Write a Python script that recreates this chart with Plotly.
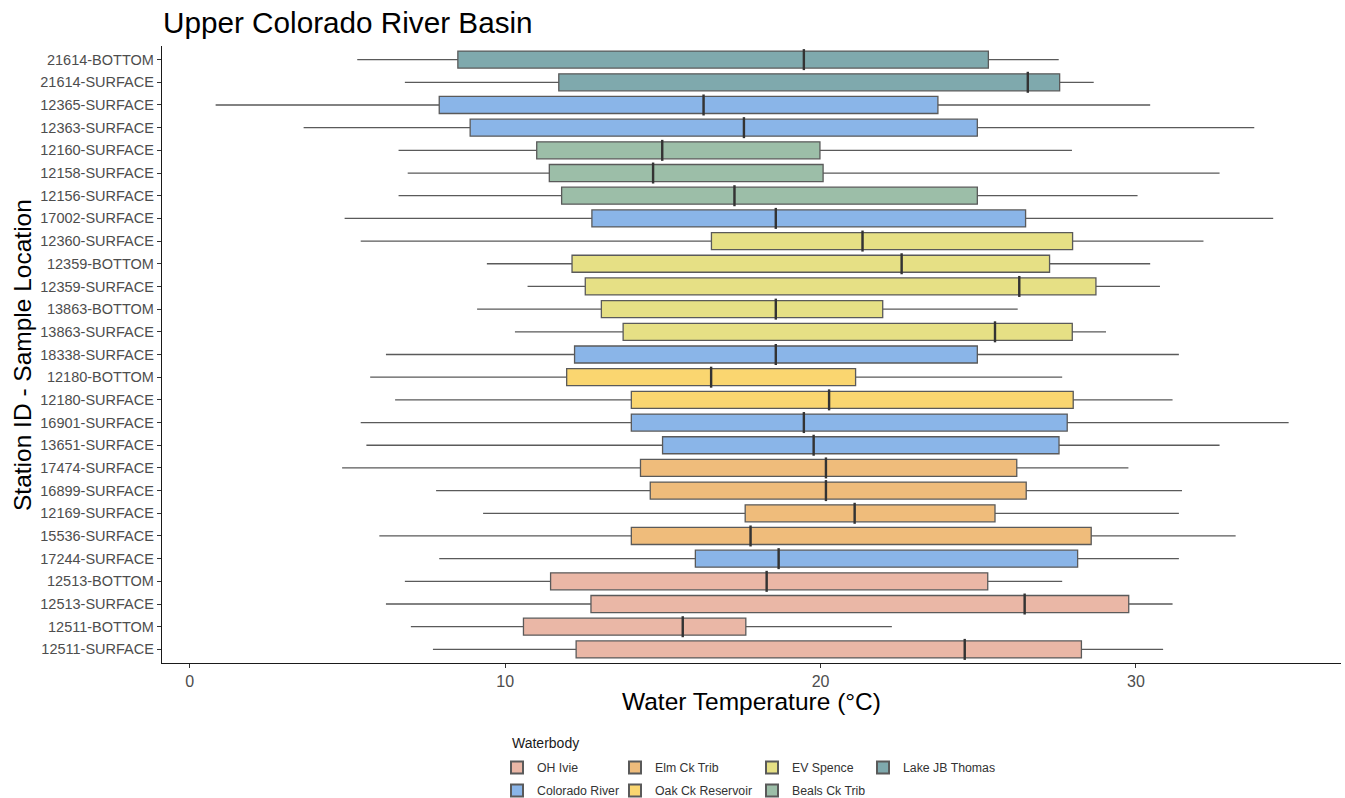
import plotly.graph_objects as go

# Station / sample-location rows, listed top to bottom
stations = [
    "21614-BOTTOM", "21614-SURFACE", "12365-SURFACE", "12363-SURFACE",
    "12160-SURFACE", "12158-SURFACE", "12156-SURFACE", "17002-SURFACE",
    "12360-SURFACE", "12359-BOTTOM", "12359-SURFACE", "13863-BOTTOM",
    "13863-SURFACE", "18338-SURFACE", "12180-BOTTOM", "12180-SURFACE",
    "16901-SURFACE", "13651-SURFACE", "17474-SURFACE", "16899-SURFACE",
    "12169-SURFACE", "15536-SURFACE", "17244-SURFACE", "12513-BOTTOM",
    "12513-SURFACE", "12511-BOTTOM", "12511-SURFACE",
]

waterbody = [
    "Lake JB Thomas", "Lake JB Thomas", "Colorado River", "Colorado River",
    "Beals Ck Trib", "Beals Ck Trib", "Beals Ck Trib", "Colorado River",
    "EV Spence", "EV Spence", "EV Spence", "EV Spence",
    "EV Spence", "Colorado River", "Oak Ck Reservoir", "Oak Ck Reservoir",
    "Colorado River", "Colorado River", "Elm Ck Trib", "Elm Ck Trib",
    "Elm Ck Trib", "Elm Ck Trib", "Colorado River", "OH Ivie",
    "OH Ivie", "OH Ivie", "OH Ivie",
]

# Water temperature summary statistics (°C)
lower_whisker = [5.31, 6.82, 0.82, 3.61, 6.62, 6.91, 6.62, 4.91, 5.42, 9.42,
                 10.71, 9.11, 10.31, 6.22, 5.72, 6.51, 5.42, 5.60, 4.83, 7.81,
                 9.30, 6.01, 7.91, 6.82, 6.22, 7.01, 7.71]
q1 = [8.50, 11.70, 7.91, 8.89, 11.00, 11.40, 11.79, 12.75, 16.54, 12.12,
      12.54, 13.05, 13.74, 12.20, 11.95, 14.00, 14.00, 14.99, 14.29, 14.60,
      17.61, 14.00, 16.03, 11.44, 12.72, 10.58, 12.25]
median = [19.47, 26.57, 16.29, 17.57, 14.98, 14.69, 17.27, 18.58, 21.33, 22.57,
          26.30, 18.58, 25.53, 18.58, 16.53, 20.27, 19.47, 19.78, 20.17, 20.17,
          21.08, 17.78, 18.67, 18.29, 26.47, 15.63, 24.57]
q3 = [25.32, 27.58, 23.72, 24.97, 19.98, 20.08, 24.97, 26.50, 27.99, 27.26,
      28.73, 21.97, 27.98, 24.97, 21.11, 28.01, 27.82, 27.56, 26.22, 26.52,
      25.53, 28.58, 28.15, 25.30, 29.77, 17.63, 28.27]
upper_whisker = [27.55, 28.66, 30.45, 33.75, 27.97, 32.65, 30.05, 34.35, 32.14, 30.45,
                 30.76, 26.25, 29.05, 31.36, 27.66, 31.16, 34.84, 32.65, 29.76, 31.46,
                 31.36, 33.16, 31.36, 27.66, 31.16, 22.26, 30.86]

groups = ["OH Ivie", "Colorado River", "Elm Ck Trib", "Oak Ck Reservoir",
          "EV Spence", "Beals Ck Trib", "Lake JB Thomas"]
fill_colors = {
    "OH Ivie": "#EAB7A6",
    "Colorado River": "#8AB5E8",
    "Elm Ck Trib": "#EFBC7B",
    "Oak Ck Reservoir": "#FAD670",
    "EV Spence": "#E6E085",
    "Beals Ck Trib": "#9CBEA8",
    "Lake JB Thomas": "#7FA9AD",
}
# legend columns (two entries per column, filled top-down)
legend_ids = {
    "OH Ivie": "legend", "Colorado River": "legend",
    "Elm Ck Trib": "legend2", "Oak Ck Reservoir": "legend2",
    "EV Spence": "legend3", "Beals Ck Trib": "legend3",
    "Lake JB Thomas": "legend4",
}

fig = go.Figure()

for g in groups:
    idx = [i for i, w in enumerate(waterbody) if w == g]
    fig.add_trace(go.Box(
        name=g,
        legendgroup=g,
        orientation="h",
        y=[stations[i] for i in idx],
        lowerfence=[lower_whisker[i] for i in idx],
        q1=[q1[i] for i in idx],
        median=[median[i] for i in idx],
        q3=[q3[i] for i in idx],
        upperfence=[upper_whisker[i] for i in idx],
        fillcolor=fill_colors[g],
        line=dict(color="#5a5a5a", width=1.3),
        whiskerwidth=0,
        width=0.75,
        boxpoints=False,
        legend=legend_ids[g],
    ))

# darker median strokes drawn over the boxes
fig.add_trace(go.Scatter(
    x=median, y=stations, mode="markers",
    marker=dict(symbol="line-ns", size=15, line=dict(width=2.4, color="#333333")),
    showlegend=False, hoverinfo="skip",
))

W, H = 1345, 798
ML, MR, MT, MB = 162, 4, 46, 135
pw, ph = W - ML - MR, H - MT - MB


def px_x(x):
    return (x - ML) / pw


def px_y(y):
    return (H - MB - y) / ph


legend_common = dict(
    orientation="v", xanchor="left", yanchor="top",
    font=dict(family="Liberation Sans, Arial, sans-serif", size=12.3, color="#333333"),
    bgcolor="rgba(0,0,0,0)", tracegroupgap=4, itemsizing="constant",
)
legend_top = px_y(753)

fig.update_layout(
    width=W, height=H,
    margin=dict(l=ML, r=MR, t=MT, b=MB, autoexpand=False),
    paper_bgcolor="white", plot_bgcolor="white",
    boxmode="overlay",
    font=dict(family="Liberation Sans, Arial, sans-serif"),
    title=dict(
        text="Upper Colorado River Basin",
        font=dict(size=29.7, color="black"),
        xref="container", x=163 / W, xanchor="left",
        yref="container", y=1 - 23 / H, yanchor="middle",
    ),
    xaxis=dict(
        range=[-0.88, 36.5],
        tickvals=[0, 10, 20, 30],
        showline=True, linecolor="#1a1a1a", linewidth=1.4,
        ticks="outside", ticklen=4, tickcolor="#333333", tickwidth=1,
        tickfont=dict(size=16, color="#4d4d4d"),
        showgrid=False, zeroline=False,
    ),
    yaxis=dict(
        type="category", categoryorder="array", categoryarray=stations,
        range=[len(stations) - 0.4, -0.6],
        showline=True, linecolor="#1a1a1a", linewidth=1.4,
        ticks="outside", ticklen=4, tickcolor="#333333", tickwidth=1,
        tickfont=dict(size=14.5, color="#4d4d4d"),
        showgrid=False, zeroline=False,
    ),
    legend=dict(x=px_x(497), y=legend_top, **legend_common),
    legend2=dict(x=px_x(615), y=legend_top, **legend_common),
    legend3=dict(x=px_x(752), y=legend_top, **legend_common),
    legend4=dict(x=px_x(863), y=legend_top, **legend_common),
    annotations=[
        dict(text="Water Temperature (°C)", xref="paper", yref="paper",
             x=0.5, y=px_y(701), xanchor="center", yanchor="middle",
             showarrow=False, font=dict(size=24.5, color="black")),
        dict(text="Station ID - Sample Location", xref="paper", yref="paper",
             x=px_x(22), y=px_y(355), xanchor="center", yanchor="middle",
             textangle=-90, showarrow=False, font=dict(size=24.5, color="black")),
        dict(text="Waterbody", xref="paper", yref="paper",
             x=px_x(510), y=px_y(743), xanchor="left", yanchor="middle",
             showarrow=False, font=dict(size=14, color="#1a1a1a")),
    ],
)

fig.write_html("out.html")
